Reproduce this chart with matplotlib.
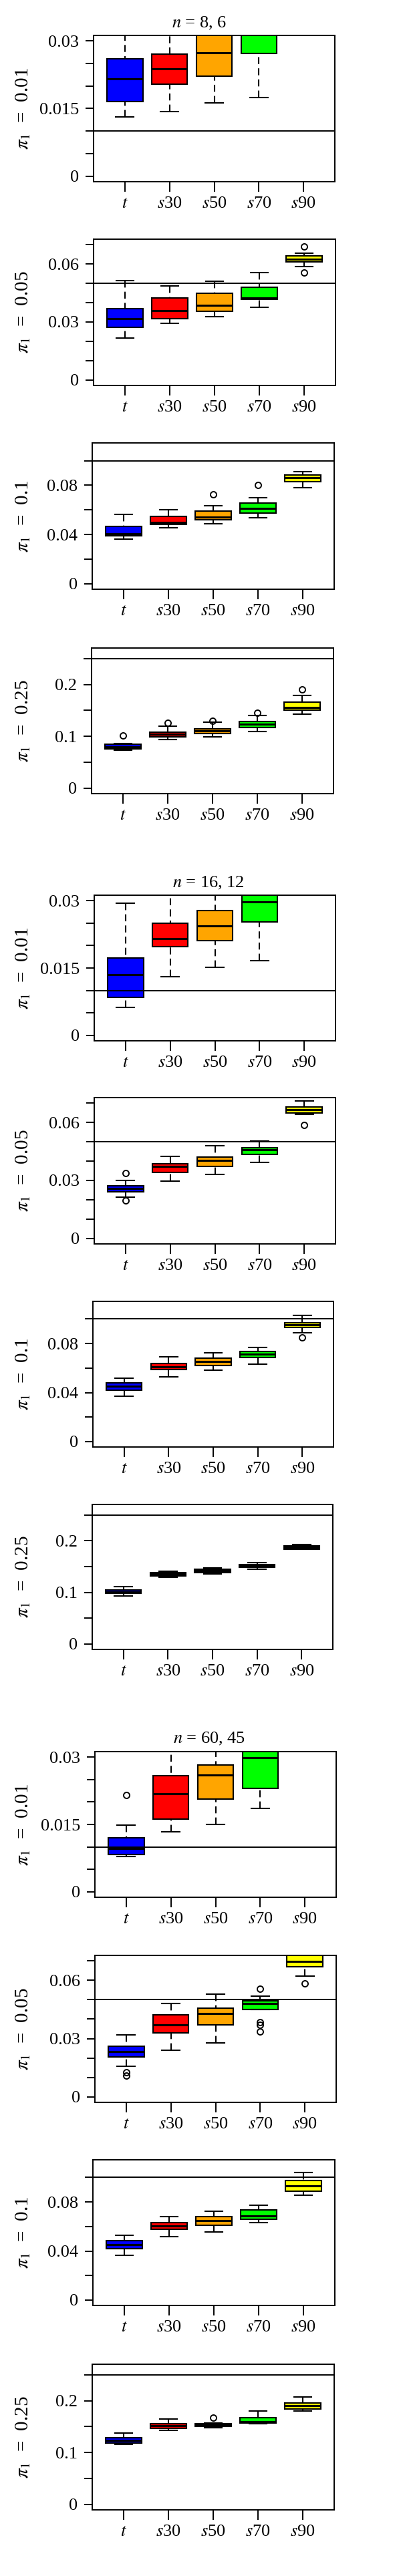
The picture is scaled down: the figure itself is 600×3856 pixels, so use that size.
#!/usr/bin/env python3
"""
Boxplots of estimated pi_1 for the t test and s30..s90 procedures,
three sample sizes x four true values of pi_1 (stacked panels).
"""

import matplotlib.pyplot as plt
import numpy as np

plt.rcParams['font.family'] = ['Liberation Serif', 'DejaVu Serif']
plt.rcParams['mathtext.fontset'] = 'stix'

# === DATA ===
methods = ['t', 's30', 's50', 's70', 's90']
method_labels = [r'$t$', r'$s$30', r'$s$50', r'$s$70', r'$s$90']
box_colors = ['#0000FF', '#FF0000', '#FFA500', '#00FF00', '#FFFF00']

sample_sizes = ['8, 6', '16, 12', '60, 45']
pi_values = [0.01, 0.05, 0.1, 0.25]
pi_labels = ['0.01', '0.05', '0.1', '0.25']

# y axis per pi_1: upper end of range, tick step, labelled ticks
y_top = [0.03, 0.07, 0.11, 0.26]
y_step = [0.005, 0.01, 0.02, 0.05]
y_labelled = [['0', '0.015', '0.03'], ['0', '0.03', '0.06'],
              ['0', '0.04', '0.08'], ['0', '0.1', '0.2']]

# rows: panels top to bottom (n = 8,6 / 16,12 / 60,45  x  pi_1 = 0.01, 0.05, 0.1, 0.25)
# cols: t, s30, s50, s70, s90   (None = nothing drawn in that panel)
whisk_lo = [
    [0.0131, 0.0143, 0.0162, 0.0174, None],
    [0.0216, 0.0293, 0.0328, 0.0377, 0.0588],
    [0.0363, 0.0457, 0.0490, 0.0535, 0.0782],
    [0.0728, 0.0938, 0.0994, 0.1092, 0.1430],
    [0.0063, 0.0131, 0.0152, 0.0166, None],
    [0.0212, 0.0297, 0.0330, 0.0393, 0.0641],
    [0.0370, 0.0530, 0.0582, 0.0633, 0.0887],
    [0.0935, 0.1289, 0.1362, 0.1448, 0.1832],
    [0.0079, 0.0134, 0.0150, 0.0185, None],
    [0.0156, 0.0240, 0.0278, 0.0448, 0.0623],
    [0.0363, 0.0515, 0.0555, 0.0630, 0.0856],
    [0.1161, 0.1430, 0.1482, 0.1559, 0.1799],
]
q1 = [
    [0.0166, 0.0204, 0.0222, 0.0272, None],
    [0.0273, 0.0316, 0.0355, 0.0419, 0.0611],
    [0.0390, 0.0481, 0.0519, 0.0577, 0.0827],
    [0.0754, 0.0985, 0.1054, 0.1174, 0.1503],
    [0.0084, 0.0198, 0.0211, 0.0252, None],
    [0.0242, 0.0343, 0.0373, 0.0436, 0.0649],
    [0.0419, 0.0586, 0.0620, 0.0684, 0.0929],
    [0.0978, 0.1319, 0.1379, 0.1487, 0.1841],
    [0.0083, 0.0162, 0.0206, 0.0231, None],
    [0.0204, 0.0328, 0.0370, 0.0451, 0.0668],
    [0.0421, 0.0577, 0.0610, 0.0660, 0.0889],
    [0.1186, 0.1465, 0.1503, 0.1576, 0.1846],
]
med = [
    [0.0216, 0.0238, 0.0273, 0.0340, None],
    [0.0317, 0.0358, 0.0385, 0.0423, 0.0625],
    [0.0405, 0.0501, 0.0541, 0.0610, 0.0864],
    [0.0797, 0.1036, 0.1101, 0.1238, 0.1563],
    [0.0135, 0.0215, 0.0244, 0.0297, None],
    [0.0257, 0.0371, 0.0403, 0.0458, 0.0665],
    [0.0452, 0.0611, 0.0651, 0.0713, 0.0954],
    [0.1013, 0.1353, 0.1418, 0.1517, 0.1871],
    [0.0097, 0.0219, 0.0260, 0.0298, None],
    [0.0234, 0.0371, 0.0428, 0.0480, 0.0698],
    [0.0454, 0.0606, 0.0648, 0.0686, 0.0931],
    [0.1242, 0.1520, 0.1533, 0.1602, 0.1902],
]
q3 = [
    [0.0260, 0.0270, 0.0330, 0.0390, None],
    [0.0370, 0.0423, 0.0448, 0.0479, 0.0640],
    [0.0468, 0.0546, 0.0593, 0.0655, 0.0882],
    [0.0844, 0.1084, 0.1148, 0.1289, 0.1662],
    [0.0172, 0.0249, 0.0278, 0.0340, None],
    [0.0273, 0.0386, 0.0422, 0.0470, 0.0680],
    [0.0479, 0.0635, 0.0679, 0.0733, 0.0972],
    [0.1043, 0.1388, 0.1448, 0.1543, 0.1897],
    [0.0121, 0.0259, 0.0283, 0.0330, None],
    [0.0259, 0.0422, 0.0457, 0.0494, 0.0735],
    [0.0486, 0.0633, 0.0680, 0.0738, 0.0976],
    [0.1289, 0.1563, 0.1559, 0.1679, 0.1957],
]
whisk_hi = [
    [0.0340, 0.0360, 0.0400, 0.0500, None],
    [0.0513, 0.0487, 0.0510, 0.0555, 0.0656],
    [0.0562, 0.0602, 0.0635, 0.0698, 0.0911],
    [0.0861, 0.1195, 0.1276, 0.1409, 0.1790],
    [0.0294, 0.0330, 0.0340, 0.0400, None],
    [0.0299, 0.0425, 0.0481, 0.0503, 0.0711],
    [0.0515, 0.0689, 0.0724, 0.0769, 0.1032],
    [0.1108, 0.1405, 0.1470, 0.1582, 0.1927],
    [0.0149, 0.0330, 0.0340, 0.0400, None],
    [0.0318, 0.0479, 0.0530, 0.0519, 0.0780],
    [0.0528, 0.0680, 0.0726, 0.0771, 0.1038],
    [0.1371, 0.1653, 0.1568, 0.1803, 0.2073],
]
outliers = [
    [[], [], [], [], []],
    [[], [], [], [], [0.0689, 0.0554]],
    [[], [], [0.0728], [0.0800], []],
    [[0.1011], [0.1259], [0.1306], [0.1456], [0.1902]],
    [[], [], [], [], []],
    [[0.0339, 0.0196], [], [], [], [0.0587]],
    [[], [], [], [], [0.0851]],
    [[], [], [], [], []],
    [[0.0216], [], [], [], []],
    [[0.0127, 0.0111], [], [], [0.0556, 0.0384, 0.0369, 0.0337], [0.0583]],
    [[], [], [], [], []],
    [[], [], [0.1675], [], []],
]

# === LAYOUT (pixels in a 600 x 3856 canvas) ===
W, H = 600, 3856
panel_px = [  # left, top, right, bottom
    (140, 53, 501, 272), (140, 358, 502, 577), (138, 663, 500, 882), (137, 970, 499, 1188),
    (141, 1340, 502, 1558), (141, 1643, 502, 1862), (139, 1948, 499, 2166), (138, 2252, 498, 2469),
    (142, 2622, 503, 2840), (142, 2927, 503, 3147), (139, 3233, 501, 3451), (138, 3539, 500, 3757),
]
title_px = [(257, 35), (258, 1322), (259, 2603)]

fig = plt.figure(figsize=(W / 100, H / 100), dpi=100)

for g, (tx, ty) in enumerate(title_px):
    fig.text(tx / W, 1 - ty / H, r'$n$ = ' + sample_sizes[g], fontsize=19,
             ha='left', va='center')

for k, (l, t, r, b) in enumerate(panel_px):
    p = k % 4
    ax = fig.add_axes([l / W, 1 - b / H, (r - l) / W, (b - t) / H])

    stats, pos, cols = [], [], []
    for j in range(len(methods)):
        if med[k][j] is None:
            continue
        stats.append(dict(whislo=whisk_lo[k][j], q1=q1[k][j], med=med[k][j],
                          q3=q3[k][j], whishi=whisk_hi[k][j], fliers=outliers[k][j]))
        pos.append(j + 1)
        cols.append(box_colors[j])

    bp = ax.bxp(stats, positions=pos, widths=0.8, capwidths=0.4, patch_artist=True,
                boxprops=dict(edgecolor='black', linewidth=1.5),
                medianprops=dict(color='black', linewidth=2.2),
                whiskerprops=dict(color='black', linewidth=1.5, linestyle=(0, (5, 3))),
                capprops=dict(color='black', linewidth=1.5),
                flierprops=dict(marker='o', markerfacecolor='none', markeredgecolor='black',
                                markersize=6.5, markeredgewidth=1.4))
    for patch, c in zip(bp['boxes'], cols):
        patch.set_facecolor(c)
    # dashes start at the staple, as in R
    for wl in bp['whiskers']:
        wl.set_ydata(wl.get_ydata()[::-1])

    ax.axhline(pi_values[p], color='black', linewidth=1.4, zorder=5)

    ax.set_xlim(0.3, 5.7)
    pad = 0.04 * y_top[p]
    ax.set_ylim(-pad, y_top[p] + pad)
    ticks = np.arange(0, y_top[p] + 1e-9, y_step[p])
    ax.set_yticks(ticks)
    labs = []
    for v in ticks:
        s = ('%g' % round(v, 4))
        labs.append(s if s in y_labelled[p] else '')
    ax.set_yticklabels(labs)
    ax.set_xticks(range(1, 6))
    ax.set_xticklabels(method_labels)

    ax.tick_params(axis='y', length=8.5, width=1.4, pad=7, labelsize=19)
    ax.tick_params(axis='x', length=11, width=1.4, pad=5, labelsize=19)
    for sp in ax.spines.values():
        sp.set_linewidth(1.4)

    fig.text(35 / W, 1 - (t + b) / 2 / H, r'$\pi_1$  =  ' + pi_labels[p], fontsize=21,
             rotation=90, ha='center', va='center')

fig.savefig('out.png', dpi=100, facecolor='white')
